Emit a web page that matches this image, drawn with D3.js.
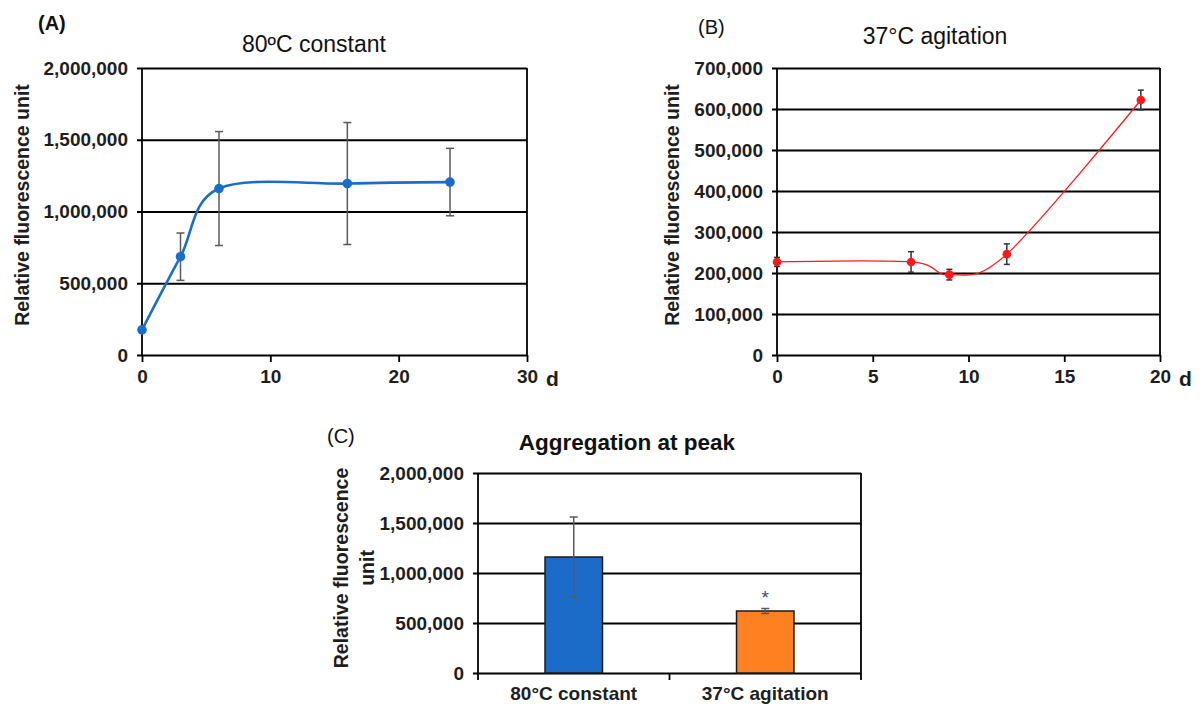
<!DOCTYPE html>
<html>
<head>
<meta charset="utf-8">
<script src="https://cdn.jsdelivr.net/npm/d3@7"></script>
<style>
  body { margin: 0; background: #fff; }
  svg { display: block; font-family: "Liberation Sans", Arial, sans-serif; }
  .tick text { font-weight: bold; fill: #1e1e1e; }
</style>
</head>
<body>
<svg id="chart" width="1202" height="707"></svg>
<script>
// panel A - 80C constant
var daysA = [0, 3, 6, 16, 24];
var valuesA = [175000, 685000, 1160000, 1195000, 1205000];
var errorsA = [0, 165000, 397000, 425000, 235000];
var xTicksA = [0, 10, 20, 30];
var yTicksA = [0, 500000, 1000000, 1500000, 2000000];

// panel B - 37C agitation
var daysB = [0, 7, 9, 12, 19];
var valuesB = [227000, 227000, 196000, 246000, 622000];
var errorsB = [11000, 25000, 13000, 25000, 24000];
var xTicksB = [0, 5, 10, 15, 20];
var yTicksB = [0, 100000, 200000, 300000, 400000, 500000, 600000, 700000];

// panel C - peak bars
var groupsC = ["80°C constant", "37°C agitation"];
var valuesC = [1160000, 620000];
var errorsC = [400000, 25000];
var yTicksC = [0, 500000, 1000000, 1500000, 2000000];

var svg = d3.select("#chart");
svg.append("rect").attr("width", 1202).attr("height", 707).attr("fill", "#fff");

var fmt = d3.format(",");
var TICK_FS = 19;

function yAxis(g, y, ticks, left, right){
	g.call(d3.axisLeft(y).tickValues(ticks).tickFormat(fmt).tickSize(5).tickPadding(9));
	g.select(".domain").remove();
	g.selectAll(".tick line")
		.attr("x1", -5).attr("x2", right - left)
		.attr("stroke", "#000").attr("stroke-width", 1.8);
	g.selectAll(".tick text").attr("font-size", TICK_FS);
}

function linePanel(o){
	var g = svg.append("g");
	var x = d3.scaleLinear().domain(o.xDomain).range([o.left, o.right]);
	var y = d3.scaleLinear().domain(o.yDomain).range([o.bottom, o.top]);

	var ga = g.append("g").attr("transform", "translate(" + o.left + ",0)");
	yAxis(ga, y, o.yTicks, o.left, o.right);

	var gx = g.append("g").attr("transform", "translate(0," + o.bottom + ")")
		.call(d3.axisBottom(x).tickValues(o.xTicks).tickSize(7).tickPadding(8));
	gx.select(".domain").remove();
	gx.selectAll(".tick line").attr("stroke", "#000").attr("stroke-width", 1.8);
	gx.selectAll(".tick text").attr("font-size", TICK_FS);

	// axis lines + right border
	g.append("line").attr("x1", o.left).attr("x2", o.left).attr("y1", o.top).attr("y2", o.bottom)
		.attr("stroke", "#000").attr("stroke-width", 1.8);
	g.append("line").attr("x1", o.right).attr("x2", o.right).attr("y1", o.top).attr("y2", o.bottom)
		.attr("stroke", "#000").attr("stroke-width", 1.8);

	var pts = o.days.map(function(d, i){ return {x: d, v: o.values[i], e: o.errors[i]}; });

	var line = d3.line().x(function(d){ return x(d.x); }).y(function(d){ return y(d.v); })
		.curve(d3.curveCardinal);
	g.append("path").datum(pts).attr("d", line).attr("fill", "none")
		.attr("stroke", o.color).attr("stroke-width", o.lineWidth);

	var eb = g.selectAll(".eb").data(pts.filter(function(d){ return d.e > 0; })).enter().append("g");
	eb.append("line").attr("x1", function(d){ return x(d.x); }).attr("x2", function(d){ return x(d.x); })
		.attr("y1", function(d){ return y(d.v - d.e); }).attr("y2", function(d){ return y(d.v + d.e); });
	eb.append("line").attr("x1", function(d){ return x(d.x) - o.cap; }).attr("x2", function(d){ return x(d.x) + o.cap; })
		.attr("y1", function(d){ return y(d.v + d.e); }).attr("y2", function(d){ return y(d.v + d.e); });
	eb.append("line").attr("x1", function(d){ return x(d.x) - o.cap; }).attr("x2", function(d){ return x(d.x) + o.cap; })
		.attr("y1", function(d){ return y(d.v - d.e); }).attr("y2", function(d){ return y(d.v - d.e); });
	eb.selectAll("line").attr("stroke", o.errColor).attr("stroke-width", 1.5);

	g.selectAll(".dot").data(pts).enter().append("circle")
		.attr("cx", function(d){ return x(d.x); }).attr("cy", function(d){ return y(d.v); })
		.attr("r", o.r).attr("fill", o.color);

	g.append("text").attr("x", o.right + 19).attr("y", o.bottom + 31)
		.attr("font-size", 21).attr("font-weight", "bold").attr("fill", "#1e1e1e").text("d");

	g.append("text").attr("x", o.titleX).attr("y", o.titleY).attr("text-anchor", "middle")
		.attr("font-size", 23).attr("fill", "#111").text(o.title);
	g.append("text").attr("x", o.tagX).attr("y", o.tagY)
		.attr("font-size", 20).attr("font-weight", o.tagBold ? "bold" : "normal").attr("fill", "#111").text(o.tag);

	g.append("text").attr("transform", "translate(" + o.labelX + "," + o.labelY + ") rotate(-90)")
		.attr("text-anchor", "middle").attr("font-size", 19.5).attr("font-weight", "bold").attr("fill", "#1e1e1e")
		.text("Relative fluorescence unit");
}

linePanel({
	days: daysA, values: valuesA, errors: errorsA,
	xDomain: [0, 30], yDomain: [0, 2000000], xTicks: xTicksA, yTicks: yTicksA,
	left: 142, right: 527, top: 68, bottom: 355,
	color: "#1b6ec8", lineWidth: 2.6, r: 4.8, errColor: "#5a5a5a", cap: 4,
	title: "80ºC constant", titleX: 314, titleY: 52,
	tag: "(A)", tagX: 38, tagY: 30, tagBold: true, labelX: 29, labelY: 205
});

linePanel({
	days: daysB, values: valuesB, errors: errorsB,
	xDomain: [0, 20], yDomain: [0, 700000], xTicks: xTicksB, yTicks: yTicksB,
	left: 777, right: 1160, top: 68, bottom: 355,
	color: "#ff1a1a", lineWidth: 1.3, r: 4.3, errColor: "#333", cap: 3,
	title: "37°C agitation", titleX: 935, titleY: 44,
	tag: "(B)", tagX: 698, tagY: 34, tagBold: false, labelX: 679, labelY: 205
});

// panel C
var gC = svg.append("g");
var leftC = 478, rightC = 861, topC = 473, bottomC = 673;
var xC = d3.scaleBand().domain(groupsC).range([leftC, rightC]).paddingInner(0.7).paddingOuter(0.35);
var yC = d3.scaleLinear().domain([0, 2000000]).range([bottomC, topC]);

var gcy = gC.append("g").attr("transform", "translate(" + leftC + ",0)");
yAxis(gcy, yC, yTicksC, leftC, rightC);

var gcx = gC.append("g").attr("transform", "translate(0," + bottomC + ")")
	.call(d3.axisBottom(xC).tickSize(0).tickPadding(14));
gcx.select(".domain").remove();
gcx.selectAll(".tick text").attr("font-size", TICK_FS);

// category separators
var step = xC.step();
var seps = [leftC, xC(groupsC[0]) + xC.bandwidth() + (step - xC.bandwidth()) / 2, rightC];
gC.selectAll(".sep").data(seps).enter().append("line")
	.attr("x1", function(d){ return d; }).attr("x2", function(d){ return d; })
	.attr("y1", bottomC).attr("y2", bottomC + 7)
	.attr("stroke", "#000").attr("stroke-width", 1.8);

gC.append("line").attr("x1", leftC).attr("x2", leftC).attr("y1", topC).attr("y2", bottomC)
	.attr("stroke", "#000").attr("stroke-width", 1.8);
gC.append("line").attr("x1", rightC).attr("x2", rightC).attr("y1", topC).attr("y2", bottomC)
	.attr("stroke", "#000").attr("stroke-width", 1.8);

var barColors = ["#1a6cc8", "#ff8020"];
gC.selectAll(".bar").data(groupsC).enter().append("rect")
	.attr("x", function(d){ return xC(d); }).attr("width", xC.bandwidth())
	.attr("y", function(d, i){ return yC(valuesC[i]); })
	.attr("height", function(d, i){ return bottomC - yC(valuesC[i]); })
	.attr("fill", function(d, i){ return barColors[i]; })
	.attr("stroke", "#1a1a1a").attr("stroke-width", 1.5);

var ebC = gC.selectAll(".ebc").data(groupsC).enter().append("g");
function cx(d){ return xC(d) + xC.bandwidth() / 2; }
ebC.append("line").attr("x1", cx).attr("x2", cx)
	.attr("y1", function(d, i){ return yC(valuesC[i] - errorsC[i]); })
	.attr("y2", function(d, i){ return yC(valuesC[i] + errorsC[i]); });
ebC.append("line").attr("x1", function(d){ return cx(d) - 4; }).attr("x2", function(d){ return cx(d) + 4; })
	.attr("y1", function(d, i){ return yC(valuesC[i] + errorsC[i]); })
	.attr("y2", function(d, i){ return yC(valuesC[i] + errorsC[i]); });
ebC.append("line").attr("x1", function(d){ return cx(d) - 4; }).attr("x2", function(d){ return cx(d) + 4; })
	.attr("y1", function(d, i){ return yC(valuesC[i] - errorsC[i]); })
	.attr("y2", function(d, i){ return yC(valuesC[i] - errorsC[i]); });
ebC.selectAll("line").attr("stroke", "#5a5a5a").attr("stroke-width", 1.5);

// significance mark
gC.append("text").attr("x", cx(groupsC[1])).attr("y", yC(valuesC[1] + errorsC[1]) - 5)
	.attr("text-anchor", "middle").attr("font-size", 19).attr("fill", "#4a4a6a").text("*");

gC.append("text").attr("x", 627).attr("y", 450).attr("text-anchor", "middle")
	.attr("font-size", 22.5).attr("font-weight", "bold").attr("fill", "#111").text("Aggregation at peak");
gC.append("text").attr("x", 327).attr("y", 443).attr("font-size", 20).attr("fill", "#111").text("(C)");

var lab = gC.append("text").attr("transform", "translate(348," + ((topC + bottomC) / 2 - 5) + ") rotate(-90)")
	.attr("text-anchor", "middle").attr("font-size", 19.5).attr("font-weight", "bold").attr("fill", "#1e1e1e");
lab.append("tspan").attr("x", 0).attr("dy", 0).text("Relative fluorescence");
lab.append("tspan").attr("x", 0).attr("dy", 26).text("unit");
</script>
</body>
</html>
